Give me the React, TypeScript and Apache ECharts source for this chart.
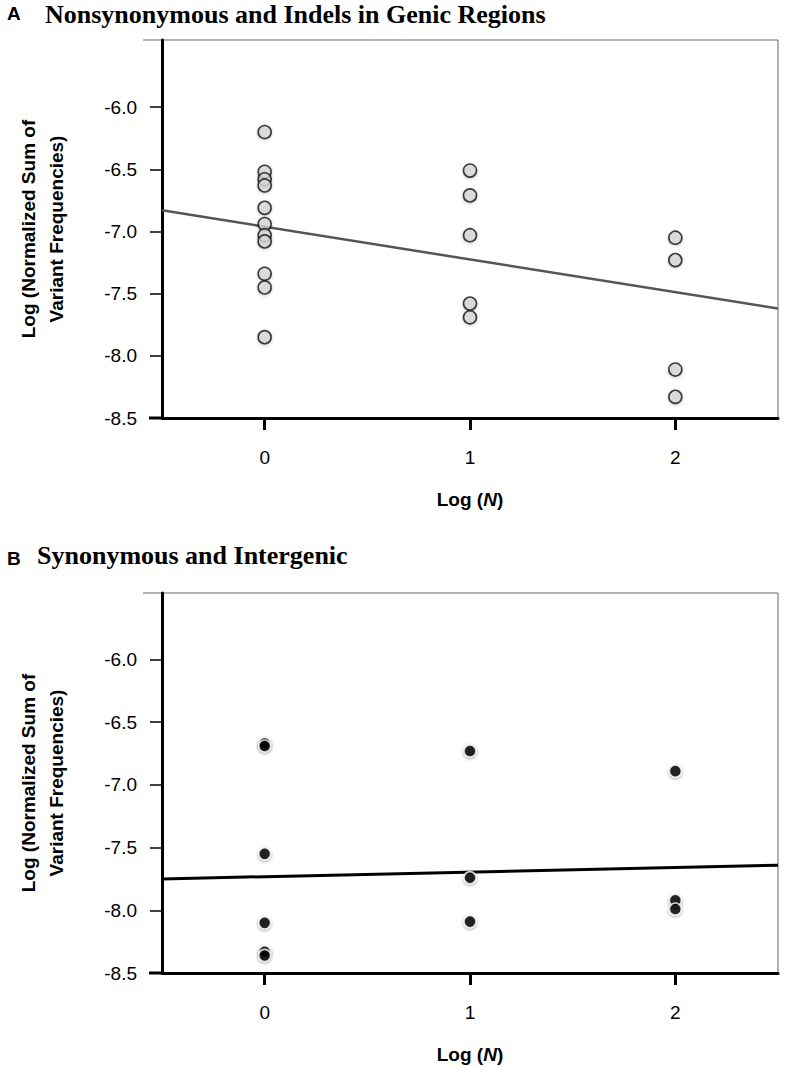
import React, { useEffect, useRef } from "react";
import * as echarts from "echarts";

// ---- data ----
const logNTicks = [0, 1, 2];
const yTicks = [-8.5, -8.0, -7.5, -7.0, -6.5, -6.0];

// Panel A: Nonsynonymous and Indels in Genic Regions
const nonsynLogN0 = [-6.2, -6.52, -6.58, -6.63, -6.81, -6.94, -7.03, -7.08, -7.34, -7.45, -7.85];
const nonsynLogN1 = [-6.51, -6.71, -7.03, -7.58, -7.69];
const nonsynLogN2 = [-7.05, -7.23, -8.11, -8.33];
const nonsynFitX = [-0.5, 2.5];
const nonsynFitY = [-6.83, -7.62];

// Panel B: Synonymous and Intergenic
const synLogN0 = [-6.67, -6.69, -7.55, -8.1, -8.33, -8.36];
const synLogN1 = [-6.73, -7.74, -8.09];
const synLogN2 = [-6.89, -7.92, -7.99];
const synFitX = [-0.5, 2.5];
const synFitY = [-7.75, -7.64];

const SANS = "'Liberation Sans', Arial, Helvetica, sans-serif";
const SERIF = "'Liberation Serif', 'Times New Roman', serif";

const pts = (x: number, ys: number[]) => ys.map((y) => [x, y]);

function makeXAxis(gridIndex: number) {
  return {
    type: "value",
    gridIndex,
    min: -0.5,
    max: 2.5,
    splitLine: { show: false },
    axisLine: { show: true, onZero: false, lineStyle: { color: "#000", width: 3 } },
    axisTick: {
      show: true,
      customValues: logNTicks,
      length: 12,
      lineStyle: { color: "#000", width: 3 },
    },
    axisLabel: {
      customValues: logNTicks,
      margin: 30,
      color: "#000",
      fontSize: 19,
      fontFamily: SANS,
      formatter: (v: number) => String(v),
    },
    name: "{b|Log (}{bi|N}{b|)}",
    nameLocation: "middle",
    nameGap: 72,
    nameTextStyle: {
      rich: {
        b: { fontSize: 19, fontWeight: "bold", fontFamily: SANS, color: "#000" },
        bi: { fontSize: 19, fontWeight: "bold", fontStyle: "italic", fontFamily: SANS, color: "#000" },
      },
    },
  };
}

function makeYAxis(gridIndex: number, max: number) {
  return {
    type: "value",
    gridIndex,
    min: -8.5,
    max,
    splitLine: { show: false },
    axisLine: { show: true, onZero: false, lineStyle: { color: "#000", width: 3 } },
    axisTick: {
      show: true,
      customValues: yTicks,
      length: 12,
      lineStyle: { color: "#000", width: 1.5 },
    },
    axisLabel: {
      customValues: yTicks,
      margin: 25,
      color: "#000",
      fontSize: 19,
      fontFamily: SANS,
      formatter: (v: number) => v.toFixed(1),
    },
    name: "Log (Normalized Sum of\nVariant Frequencies)",
    nameLocation: "middle",
    nameRotate: 90,
    nameGap: 92,
    nameTextStyle: {
      fontSize: 19,
      fontWeight: "bold",
      fontFamily: SANS,
      color: "#000",
      lineHeight: 28,
      align: "center",
    },
  };
}

const openStyle = {
  color: "#d8d8d8",
  borderColor: "#111",
  borderWidth: 1.6,
  shadowBlur: 3,
  shadowColor: "rgba(0,0,0,0.25)",
  shadowOffsetY: 1,
};
const filledStyle = {
  color: "#000",
  borderColor: "#fff",
  borderWidth: 1.5,
  shadowBlur: 3,
  shadowColor: "rgba(0,0,0,0.45)",
  shadowOffsetY: 1,
};

// small decorative frame extensions left of the y axis
function frameStubs(top: number, bottom: number) {
  return [
    { type: "line", shape: { x1: 143, y1: top, x2: 162, y2: top }, style: { stroke: "#666", lineWidth: 1 } },
    { type: "line", shape: { x1: 149, y1: bottom, x2: 162, y2: bottom }, style: { stroke: "#000", lineWidth: 3 } },
  ];
}

export default function App() {
  const ref = useRef<HTMLDivElement>(null);

  useEffect(() => {
    document.body.style.margin = "0";
    const chart = echarts.init(ref.current!, null, { renderer: "svg" });
    const option: any = {
      animation: false,
      backgroundColor: "#fff",
      grid: [
        { left: 162, top: 40, width: 616, height: 378, show: true, borderColor: "#666", borderWidth: 1, backgroundColor: "transparent" },
        { left: 162, top: 593, width: 616, height: 380, show: true, borderColor: "#666", borderWidth: 1, backgroundColor: "transparent" },
      ],
      xAxis: [makeXAxis(0), makeXAxis(1)],
      yAxis: [makeYAxis(0, -5.46), makeYAxis(1, -5.47)],
      graphic: [
        { type: "text", left: 7, top: 4, style: { text: "A", font: `bold 19px ${SANS}`, fill: "#000" } },
        { type: "text", left: 45, top: 1, style: { text: "Nonsynonymous and Indels in Genic Regions", font: `bold 26px ${SERIF}`, fill: "#000" } },
        { type: "text", left: 7, top: 549, style: { text: "B", font: `bold 19px ${SANS}`, fill: "#000" } },
        { type: "text", left: 37, top: 542, style: { text: "Synonymous and Intergenic", font: `bold 26px ${SERIF}`, fill: "#000" } },
        ...frameStubs(40, 418),
        ...frameStubs(593, 973),
      ],
      series: [
        {
          type: "line",
          xAxisIndex: 0,
          yAxisIndex: 0,
          data: nonsynFitX.map((x, i) => [x, nonsynFitY[i]]),
          showSymbol: false,
          lineStyle: { color: "#555", width: 2.5 },
          z: 1,
        },
        {
          type: "scatter",
          xAxisIndex: 0,
          yAxisIndex: 0,
          symbolSize: 13,
          itemStyle: openStyle,
          data: [...pts(0, nonsynLogN0), ...pts(1, nonsynLogN1), ...pts(2, nonsynLogN2)],
          z: 3,
        },
        {
          type: "line",
          xAxisIndex: 1,
          yAxisIndex: 1,
          data: synFitX.map((x, i) => [x, synFitY[i]]),
          showSymbol: false,
          lineStyle: { color: "#000", width: 3 },
          z: 1,
        },
        {
          type: "scatter",
          xAxisIndex: 1,
          yAxisIndex: 1,
          symbolSize: 12,
          itemStyle: filledStyle,
          data: [...pts(0, synLogN0), ...pts(1, synLogN1), ...pts(2, synLogN2)],
          z: 3,
        },
      ],
    };
    chart.setOption(option);
    return () => chart.dispose();
  }, []);

  return (
    <div
      ref={ref}
      style={{ position: "absolute", left: 0, top: 0, width: 787, height: 1066 }}
    />
  );
}
